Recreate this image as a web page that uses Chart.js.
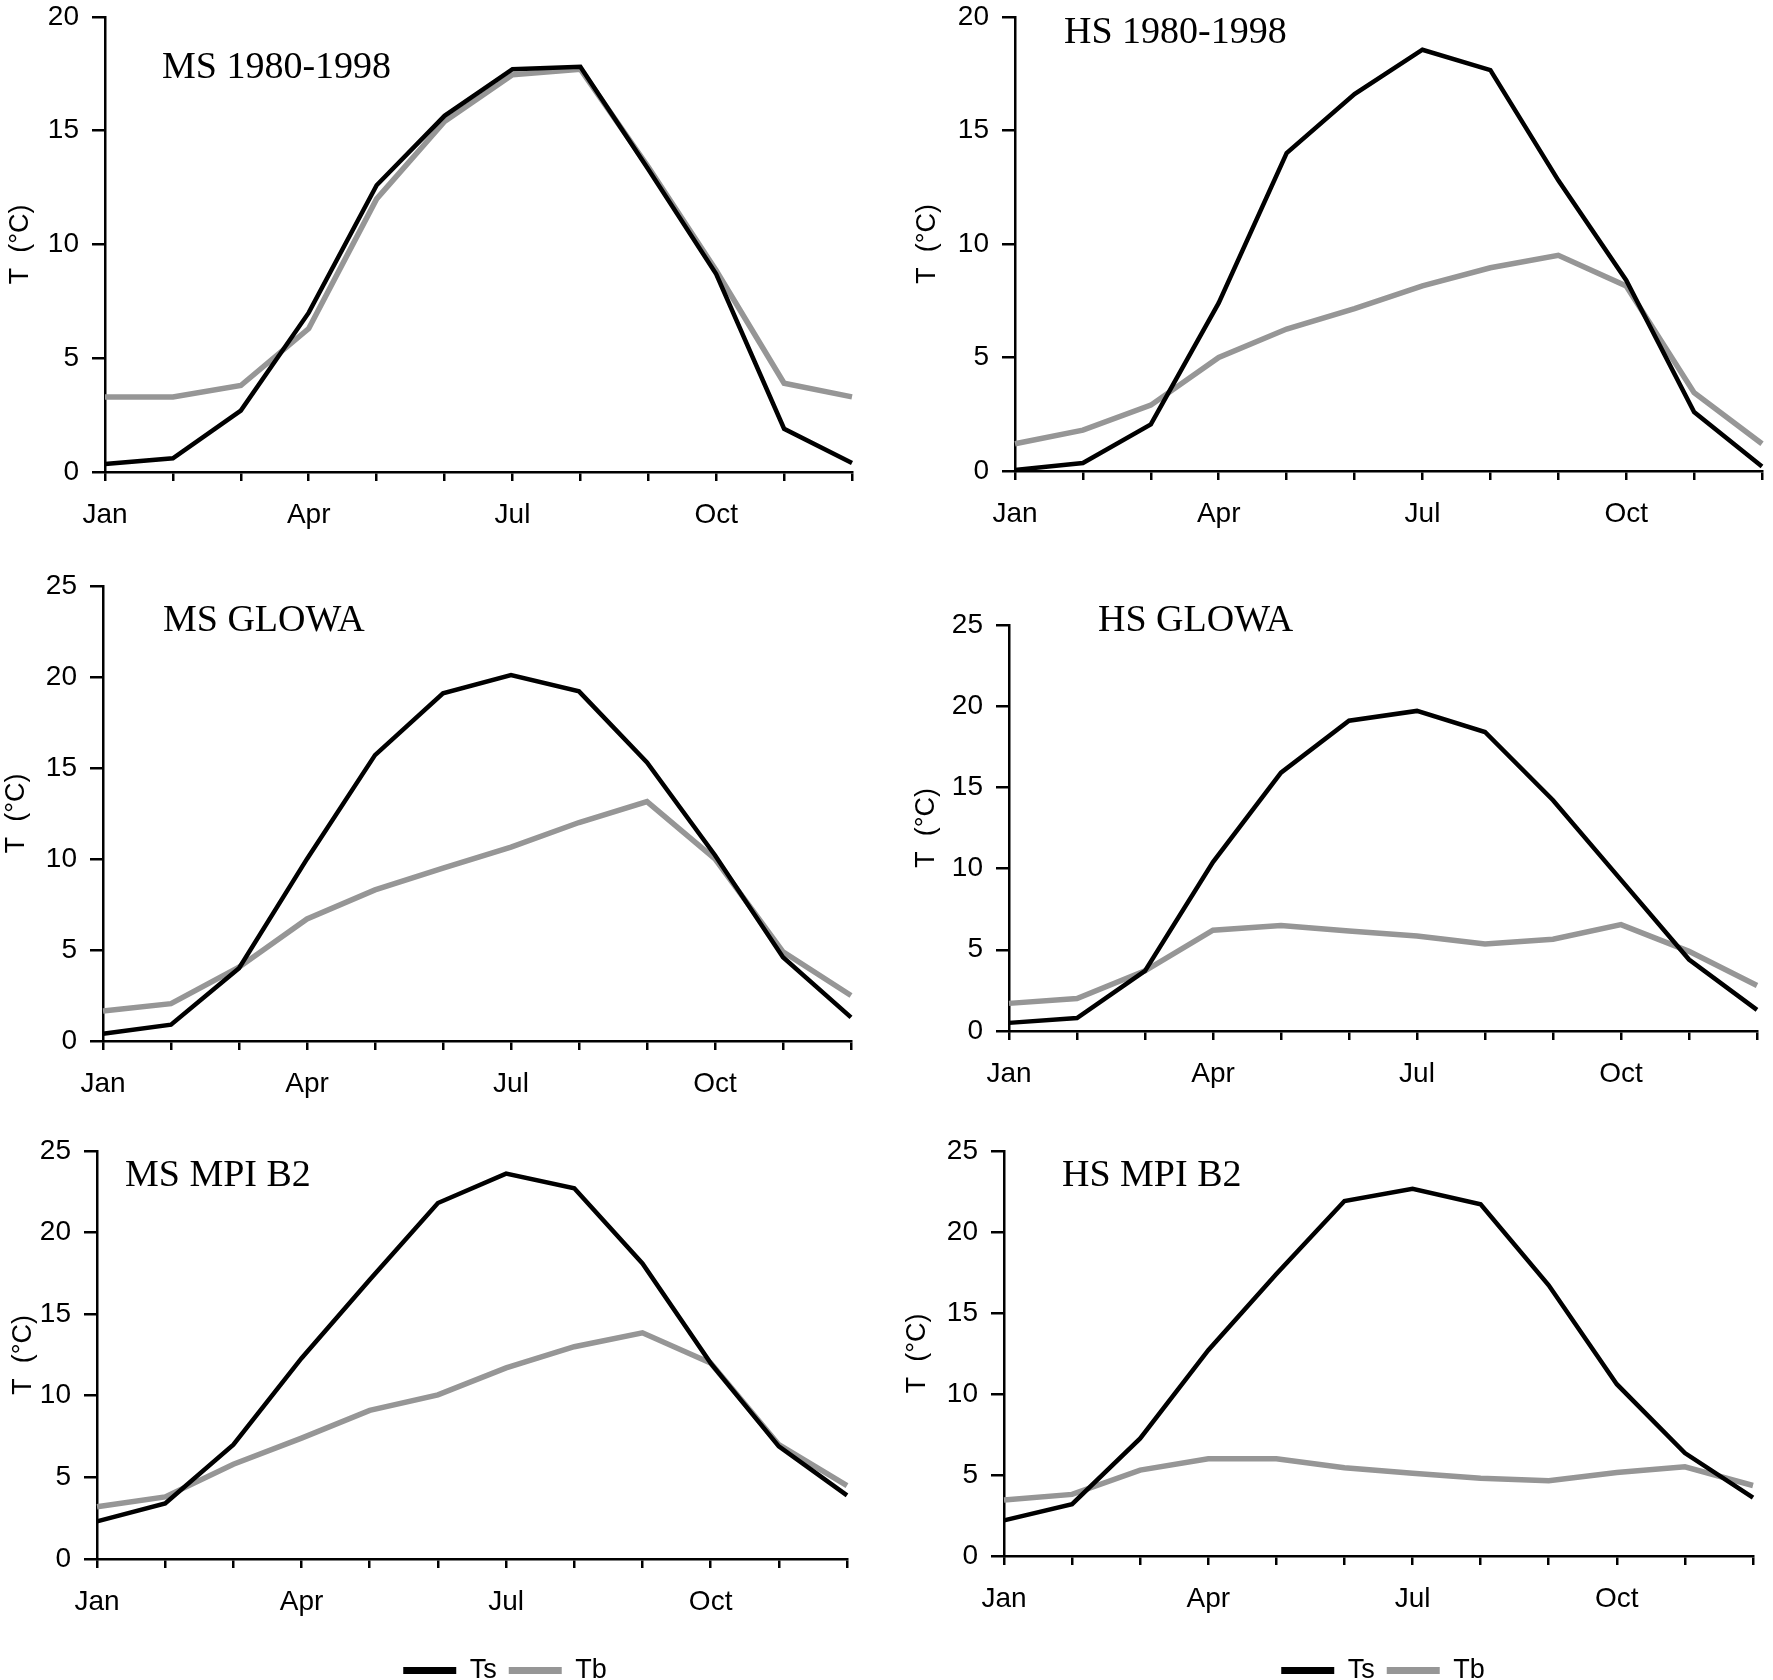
<!DOCTYPE html>
<html>
<head>
<meta charset="utf-8">
<title>Ts / Tb monthly temperature</title>
<script src="https://cdn.jsdelivr.net/npm/chart.js@4.4.0/dist/chart.umd.min.js"></script>
<style>
  html, body { margin: 0; padding: 0; background: #fff; overflow: hidden; }
  #page { position: relative; width: 1773px; height: 1680px; overflow: hidden; }
  #page canvas { position: absolute; }
</style>
</head>
<body>
<div id="page"></div>
<script>
//============================== Data ==============================

const months = ['Jan', 'Feb', 'Mar', 'Apr', 'May', 'Jun', 'Jul', 'Aug', 'Sep', 'Oct', 'Nov', 'Dec'];
const monthTicks = ['Jan', 'Apr', 'Jul', 'Oct'];
const seriesNames = ['Ts', 'Tb'];

// MS / HS 1980-1998
const tsMs1980 = [0.35, 0.6, 2.7, 7.0, 12.6, 15.65, 17.7, 17.8, 13.3, 8.7, 1.9, 0.4];
const tbMs1980 = [3.3, 3.3, 3.8, 6.3, 12.0, 15.4, 17.45, 17.7, 13.4, 8.85, 3.9, 3.3];
const tsHs1980 = [0.05, 0.35, 2.05, 7.4, 14.0, 16.6, 18.55, 17.65, 12.8, 8.4, 2.6, 0.2];
const tbHs1980 = [1.2, 1.8, 2.9, 5.0, 6.25, 7.15, 8.15, 8.95, 9.5, 8.15, 3.45, 1.2];

// MS / HS GLOWA
const tsMsGlowa = [0.4, 0.9, 4.0, 10.0, 15.7, 19.1, 20.1, 19.2, 15.3, 10.2, 4.6, 1.3];
const tbMsGlowa = [1.65, 2.05, 4.05, 6.7, 8.3, 9.5, 10.65, 12.0, 13.15, 10.0, 4.9, 2.5];
const tsHsGlowa = [0.5, 0.8, 3.7, 10.4, 15.9, 19.1, 19.7, 18.4, 14.2, 9.3, 4.4, 1.3];
const tbHsGlowa = [1.7, 2.0, 3.7, 6.2, 6.5, 6.15, 5.85, 5.35, 5.65, 6.55, 4.9, 2.8];

// MS / HS MPI B2
const tsMsMpi = [2.3, 3.4, 7.0, 12.3, 17.1, 21.8, 23.6, 22.7, 18.1, 12.0, 6.9, 3.9];
const tbMsMpi = [3.2, 3.8, 5.8, 7.4, 9.1, 10.05, 11.7, 13.0, 13.85, 12.0, 7.0, 4.5];
const tsHsMpi = [2.2, 3.2, 7.25, 12.7, 17.4, 21.9, 22.65, 21.7, 16.7, 10.6, 6.35, 3.6];
const tbHsMpi = [3.45, 3.8, 5.3, 6.0, 6.0, 5.45, 5.1, 4.8, 4.65, 5.15, 5.5, 4.35];

const yMaxTop = 20;
const yMaxOther = 25;
const yStep = 5;

//============================== Layout ==============================

// plot area edges in page pixels, one entry per panel
const panels = [
  { title: 'MS 1980-1998', ts: tsMs1980, tb: tbMs1980, yMax: yMaxTop,
    left: 105, right: 861, top: 12, bottom: 472, canvasLeft: 0, titleX: 162, titleY: 78, yTitleGap: 84 },
  { title: 'HS 1980-1998', ts: tsHs1980, tb: tbHs1980, yMax: yMaxTop,
    left: 1015, right: 1771, top: 12, bottom: 471, canvasLeft: 890, titleX: 1064, titleY: 43, yTitleGap: 87 },
  { title: 'MS GLOWA', ts: tsMsGlowa, tb: tbMsGlowa, yMax: yMaxOther,
    left: 103, right: 860, top: 581, bottom: 1041, canvasLeft: 0, titleX: 163, titleY: 631, yTitleGap: 86 },
  { title: 'HS GLOWA', ts: tsHsGlowa, tb: tbHsGlowa, yMax: yMaxOther,
    left: 1009, right: 1766, top: 620, bottom: 1031, canvasLeft: 890, titleX: 1098, titleY: 631, yTitleGap: 82 },
  { title: 'MS MPI B2', ts: tsMsMpi, tb: tbMsMpi, yMax: yMaxOther,
    left: 97, right: 856, top: 1146, bottom: 1559, canvasLeft: 0, titleX: 125, titleY: 1186, yTitleGap: 73,
    legend: true, legendCenter: 505 },
  { title: 'HS MPI B2', ts: tsHsMpi, tb: tbHsMpi, yMax: yMaxOther,
    left: 1004, right: 1762, top: 1146, bottom: 1556, canvasLeft: 890, titleX: 1062, titleY: 1186, yTitleGap: 86,
    legend: true, legendCenter: 1383 }
];

const PAD_TOP = 25;
const PAD_RIGHT = 8;
const X_AXIS_H = 75;
const LEGEND_BOTTOM = 1694;

const BLACK = '#000000';
const GREY = '#969696';

Chart.defaults.font.family = '"Liberation Sans", Arial, sans-serif';
Chart.defaults.color = '#000';

//============================== Text plugin ==============================

const panelText = {
  id: 'panelText',
  afterDraw(chart, args, opts) {
    const ctx = chart.ctx;
    const a = chart.chartArea;
    ctx.save();
    ctx.fillStyle = '#000';
    ctx.font = '38px "Liberation Serif", "Times New Roman", serif';
    ctx.textAlign = 'left';
    ctx.textBaseline = 'alphabetic';
    ctx.fillText(opts.title, opts.x, opts.y);

    ctx.translate(a.left - opts.gap, (a.top + a.bottom) / 2);
    ctx.rotate(-Math.PI / 2);
    ctx.font = '27px "Liberation Sans", Arial, sans-serif';
    ctx.textAlign = 'center';
    ctx.textBaseline = 'middle';
    ctx.fillText('T  (\u00b0C)', 0, 0);
    ctx.restore();
  }
};

// move the legend so it sits under the plot the way the original does
const legendShift = {
  id: 'legendShift',
  afterLayout(chart, args, opts) {
    const lg = chart.legend;
    if (!lg || !opts.center) return;
    const s = opts.center - (lg.left + lg.right) / 2;
    lg.left += s;
    lg.right += s;
  }
};

//============================== Charts ==============================

const page = document.getElementById('page');

panels.forEach((p, n) => {
  const canvasTop = p.top - PAD_TOP;
  const plotH = p.bottom - p.top;
  const width = p.right - p.canvasLeft + PAD_RIGHT;
  const height = p.legend ? LEGEND_BOTTOM - canvasTop : plotH + PAD_TOP + X_AXIS_H;

  const cv = document.createElement('canvas');
  cv.id = 'panel' + (n + 1);
  cv.width = width;
  cv.height = height;
  cv.style.left = p.canvasLeft + 'px';
  cv.style.top = canvasTop + 'px';
  cv.style.width = width + 'px';
  cv.style.height = height + 'px';
  page.appendChild(cv);

  new Chart(cv, {
    type: 'line',
    data: {
      labels: months,
      datasets: [
        { label: seriesNames[0], data: p.ts, borderColor: BLACK, backgroundColor: BLACK, borderWidth: 4.5 },
        { label: seriesNames[1], data: p.tb, borderColor: GREY, backgroundColor: GREY, borderWidth: 5.5 }
      ]
    },
    options: {
      responsive: false,
      animation: false,
      devicePixelRatio: 1,
      layout: { padding: { top: PAD_TOP, right: PAD_RIGHT, left: 0, bottom: 0 } },
      elements: {
        line: { tension: 0, fill: false, borderCapStyle: 'butt', borderJoinStyle: 'miter' },
        point: { radius: 0, hoverRadius: 0 }
      },
      scales: {
        x: {
          type: 'category',
          offset: false,
          grid: { display: true, drawOnChartArea: false, drawTicks: true, tickLength: 9,
                  color: '#000', lineWidth: 2.5, offset: false },
          border: { display: true, color: '#000', width: 2.5 },
          ticks: {
            autoSkip: false, maxRotation: 0, minRotation: 0, padding: 17,
            font: { size: 28 },
            callback: function (value, index) {
              return monthTicks.includes(months[index]) ? months[index] : '';
            }
          },
          afterFit: function (scale) {
            const lg = scale.chart.legend;
            const lh = (p.legend && lg) ? lg.height : 0;
            scale.height = scale.chart.height - PAD_TOP - plotH - lh;
          }
        },
        y: {
          min: 0,
          max: p.yMax,
          grid: { display: true, drawOnChartArea: false, drawTicks: true, tickLength: 13,
                  color: '#000', lineWidth: 2.5 },
          border: { display: true, color: '#000', width: 2.5 },
          ticks: { stepSize: yStep, padding: 13, font: { size: 28 } },
          afterFit: function (scale) {
            scale.width = p.left - p.canvasLeft;
          }
        }
      },
      plugins: {
        legend: {
          display: !!p.legend,
          position: 'bottom',
          labels: {
            boxWidth: 53,
            boxHeight: 7,
            padding: 12,
            font: { size: 27 },
            color: '#000',
            generateLabels: function (chart) {
              return chart.data.datasets.map((ds, i) => ({
                text: ds.label,
                fillStyle: ds.borderColor,
                strokeStyle: ds.borderColor,
                lineWidth: 0,
                hidden: false,
                datasetIndex: i
              }));
            }
          }
        },
        legendShift: { center: p.legend ? p.legendCenter - p.canvasLeft : 0 },
        tooltip: { enabled: false },
        panelText: {
          title: p.title,
          x: p.titleX - p.canvasLeft,
          y: p.titleY - canvasTop,
          gap: p.yTitleGap
        }
      }
    },
    plugins: [panelText, legendShift]
  });
});
</script>
</body>
</html>
